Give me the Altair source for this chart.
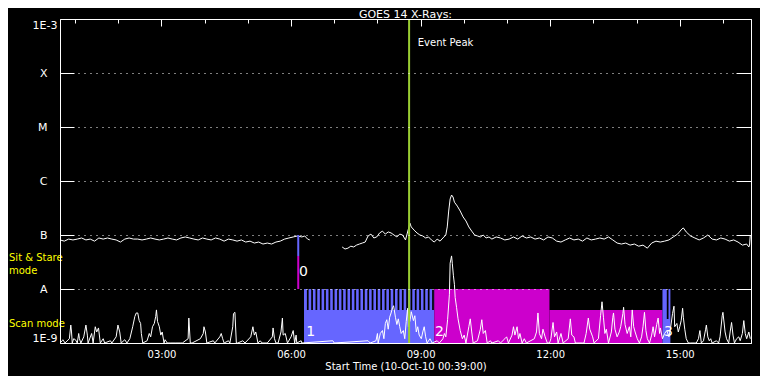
import altair as alt
import pandas as pd

FONT = "DejaVu Sans"
START = pd.Timestamp("2010-10-10 00:39:00")

# ---- upper trace (long channel), minutes after 00:39, flux in 1e-8 W/m^2
long_t1 = [0, 6, 12, 18, 24, 30, 36, 42, 48, 54,
           60, 66, 72, 78, 84, 90, 96, 102, 108, 114,
           120, 126, 132, 138, 144, 150, 156, 162, 168, 174,
           180, 186, 192, 198, 204, 210, 216, 222, 228, 234,
           240, 246, 252, 258, 264, 270, 276, 282, 288, 294,
           300, 306, 312, 318, 324, 330, 336, 340, 344, 347]
long_v1 = [8.1, 7.7, 8.4, 8.1, 8.4, 8.8, 8.1, 8.4, 7.7, 8.8,
           8.4, 8.8, 8.4, 8.1, 7.4, 8.4, 8.8, 8.4, 8.4, 8.1,
           8.4, 8.8, 8.4, 8.1, 8.4, 8.8, 8.4, 8.1, 8.8, 9.2,
           8.8, 8.4, 8.1, 8.8, 8.4, 8.1, 8.8, 8.4, 7.7, 8.4,
           8.1, 7.7, 8.1, 7.4, 7.7, 7.1, 7.4, 6.8, 7.1, 6.8,
           7.4, 7.7, 8.4, 8.8, 9.2, 9.6, 9.2, 9.6, 8.4, 8.1]
long_t2 = [392, 396, 400, 404, 408, 412, 416, 420, 424, 428,
           432, 436, 440, 444, 448, 452, 456, 460, 464, 468,
           472, 476, 480, 484, 486, 488, 492, 496, 500, 504,
           508, 512, 516, 520, 524, 528, 532, 536, 538, 540,
           542, 544, 546, 548, 552, 556, 560, 564, 568, 572,
           576, 580, 584, 588, 592, 596, 600, 606, 612, 618,
           624, 630, 636, 642, 648, 654, 660, 666, 672, 678,
           684, 690, 696, 702, 708, 714, 720, 726, 732, 738,
           744, 750, 756, 762, 768, 774, 780, 786, 792, 798,
           804, 810, 816, 822, 828, 834, 840, 846, 852, 858,
           864, 866, 870, 876, 882, 888, 894, 900, 906, 912,
           918, 924, 930, 936, 942, 948, 954, 957, 958, 959]
long_v2 = [6.0, 5.5, 5.7, 6.2, 6.0, 6.5, 6.8, 7.1, 7.4, 9.6,
           10.4, 8.8, 9.2, 10.9, 11.8, 10.4, 11.4, 10.9, 10.0, 9.2,
           10.4, 10.0, 8.1, 12.9, 16.7, 14.1, 12.3, 10.9, 10.0, 9.6,
           8.8, 9.2, 8.1, 7.4, 8.4, 7.7, 8.8, 10.0, 14.1, 27.8,
           46.4, 55.0, 50.6, 40.5, 34.3, 27.8, 21.6, 18.2, 14.1, 11.8,
           10.0, 9.6, 9.2, 10.0, 8.8, 9.2, 8.4, 9.2, 8.8, 8.1,
           8.4, 9.2, 8.4, 9.6, 8.8, 9.2, 8.4, 8.8, 8.1, 9.2,
           8.8, 7.7, 7.4, 8.1, 8.8, 8.1, 8.4, 7.7, 8.8, 8.1,
           8.4, 8.8, 8.4, 9.2, 8.1, 7.1, 6.8, 7.1, 6.5, 6.8,
           6.2, 6.5, 5.7, 7.1, 7.7, 7.4, 7.7, 8.1, 9.2, 10.4,
           12.9, 13.5, 11.4, 9.6, 8.8, 8.1, 8.8, 10.0, 8.4, 8.1,
           8.8, 8.4, 7.7, 8.1, 7.4, 6.5, 6.8, 6.0, 6.5, 10.0]

# ---- lower trace (short channel), (minutes after 00:39, flux in 1e-9 W/m^2)
short_pts = [
    (0, 0.9), (3, 1.1), (4, 1.15), (7, 0.9), (13, 1.2), (15, 2.15), (16, 1.6), (17, 0.9), (19, 1.2), (21.5, 1.15),
    (24, 0.9), (26, 1.5), (27, 1.2), (29, 0.9), (33, 1.3), (36, 2.15), (38, 1.4), (39, 0.9), (44, 1.5), (46, 0.9),
    (49, 2.0), (51, 1.6), (53.5, 1.9), (56, 0.9), (60, 1.2), (62, 0.9), (70, 1.1), (72, 0.9), (78, 1.3), (80.5, 2.15),
    (83, 1.6), (85, 0.9), (90, 1.15), (93, 0.9), (97, 1.2), (101, 2.0), (104, 3.1), (106, 3.6), (108, 3.6), (110, 2.6),
    (112, 2.3), (113, 1.5), (115, 0.9), (121, 1.1), (124, 1.5), (126, 1.3), (128.5, 2.0), (131, 2.3), (133, 3.1), (134, 4.1),
    (135.5, 2.5), (138, 2.0), (140, 1.4), (142, 1.6), (144.5, 0.9), (146, 1.15), (149, 0.9), (153, 1.0), (161, 0.9), (167, 1.0),
    (170, 0.9), (178, 1.2), (179, 2.9), (181, 1.0), (183.5, 0.9), (195, 1.2), (199, 1.5), (200, 2.0), (202, 1.6), (204, 0.9),
    (213, 1.1), (215, 0.9), (222, 1.3), (224, 1.5), (226, 1.2), (228, 0.9), (234, 1.1), (236, 0.9), (240, 2.0), (241, 3.5),
    (243, 3.7), (245, 1.0), (247, 0.9), (254, 1.1), (257, 0.9), (265, 1.3), (268, 2.0), (270, 1.4), (272, 1.6), (275, 1.0),
    (278, 1.1), (281, 0.9), (288, 1.0), (295, 1.3), (296, 1.9), (298, 1.2), (300, 1.0), (303, 0.9), (307, 1.6), (309, 2.9),
    (310, 1.4), (313, 1.5), (316, 0.9), (321, 1.3), (324, 1.7), (326, 1.0), (328, 1.4), (329, 0.9), (335, 1.1), (336, 0.9),
    (379, 1.1), (381, 0.9), (428, 1.1), (431, 0.9), (439, 1.1), (441, 1.5), (442, 1.0), (445, 1.5), (448, 1.7), (450, 1.2),
    (452, 2.3), (454, 2.7), (456, 1.8), (458, 3.0), (460, 3.6), (462, 4.5), (463.5, 4.9), (466, 3.0), (468, 2.2), (470, 2.8),
    (472, 2.0), (474, 1.5), (477, 1.7), (479, 1.2), (481, 2.5), (483, 4.4), (484, 2.0), (486.5, 2.7), (488, 3.8), (491, 2.6),
    (493, 3.2), (495, 1.6), (497, 2.0), (499, 1.4), (502, 1.2), (504, 1.6), (506, 2.0), (508, 1.3), (510, 1.0), (514, 1.2),
    (517, 0.9), (524, 1.1), (527, 0.9), (532, 1.2), (534, 1.5), (536, 1.3), (538.5, 2.7), (541, 8.0), (542, 30.0), (544, 41.0),
    (545, 30.0), (546.5, 18.0), (548, 12.0), (549, 7.0), (551, 4.5), (553, 2.8), (556, 1.7), (559, 1.2), (561.5, 1.4), (564, 1.0),
    (568, 2.0), (570, 2.8), (572, 1.6), (574, 1.0), (580, 1.1), (584, 1.8), (586, 2.7), (588, 1.5), (591, 1.7), (593.5, 1.0),
    (598, 1.1), (600, 0.9), (609, 1.1), (612, 0.9), (618, 1.2), (620.5, 1.3), (623, 0.9), (628, 1.4), (630, 2.0), (632, 1.4),
    (635, 2.0), (637, 1.2), (639, 1.5), (642, 1.0), (645, 1.2), (648, 0.9), (659, 1.2), (662, 1.6), (664, 3.6), (666, 1.5),
    (669, 1.2), (671, 1.8), (674, 1.3), (677, 1.0), (680, 0.9), (682, 1.2), (685, 2.4), (687, 1.3), (690, 1.6), (692, 1.0),
    (696, 1.5), (699, 0.9), (706, 1.2), (709, 2.8), (711, 1.4), (714, 1.3), (716, 0.9), (726, 1.0), (728, 0.9), (731, 1.5),
    (734, 2.9), (736, 1.8), (740, 1.3), (742, 0.9), (748, 1.2), (751, 3.2), (753, 5.8), (755, 3.0), (757, 1.5), (759, 1.8),
    (762, 1.0), (766, 1.6), (768, 3.0), (769, 3.6), (771, 1.8), (774, 1.3), (777, 1.6), (779, 2.0), (782, 3.5), (783, 4.6),
    (785, 2.2), (788, 1.5), (791, 2.0), (793, 1.3), (795, 4.1), (797, 2.0), (799, 1.6), (802, 1.2), (805, 1.0), (808, 1.3),
    (810, 2.0), (812, 3.7), (814, 1.7), (816, 1.2), (819, 1.0), (822, 1.4), (824, 2.0), (826, 1.3), (829, 2.2), (831, 2.9),
    (833, 1.5), (834, 1.9), (837, 1.2), (840, 1.5), (843, 1.7), (846, 1.3), (848, 1.8), (851, 3.5), (853, 4.8), (854, 2.0),
    (857, 2.3), (859, 1.6), (861, 2.0), (863, 2.6), (865, 4.4), (866, 3.0), (868, 1.8), (870, 1.2), (873, 1.0), (876, 0.9),
    (881, 1.0), (884, 0.9), (887, 1.2), (889, 1.7), (891, 1.0), (894, 1.1), (897, 1.8), (898, 2.15), (900, 1.3), (902, 1.1),
    (904, 1.2), (906, 0.9), (912, 1.1), (915, 1.0), (917, 1.3), (920, 3.2), (921, 3.7), (924, 1.6), (926, 1.2), (929, 1.0),
    (931, 1.6), (933, 2.4), (935, 1.4), (937, 1.0), (940, 1.2), (943, 1.3), (945, 1.1), (948, 1.5), (950, 2.6), (952, 1.5),
    (954, 1.2), (957, 1.6), (959, 1.2),
]

# ---- observing-mode blocks
mode_start = [339, 520, 680, 837]
mode_end = [520, 680, 837, 848]
mode_top = [1e-8, 1e-8, 4.08e-9, 1e-8]
mode_kind = ["blue", "magenta", "magenta", "blue"]

# scan comb (gaps at top of mode-1 block), minutes after 00:39
comb_start = [343, 349, 355, 361, 367, 373, 379, 385, 391, 397,
              403, 409, 415, 421, 427, 433, 439, 445, 451, 457,
              463, 469, 475, 481, 487, 493, 499, 505, 511, 517]
comb_floor = 4.08e-9
gap3_start = 843
gap3_floor = 2.78e-9
COMB_W = 2.4  # minutes

mode0_t = 331
mode0_edges = [1e-7, 4.08e-8, 1e-8]
peak_t = 485

digit_labels = ["0", "1", "2", "3"]
digit_t = [332, 342, 521, 839]
digit_y = [2.06e-8, 1.6e-9, 1.6e-9, 1.6e-9]

side_labels = ["Sit & Stare", "\u00a0\u00a0\u00a0mode", "Scan mode"]
side_y = [3.75e-8, 2.15e-8, 2.25e-9]

decades = [1e-9, 1e-8, 1e-7, 1e-6, 1e-5, 1e-4, 1e-3]
class_levels = [1e-8, 1e-7, 1e-6, 1e-5, 1e-4]
class_names = ["A", "B", "C", "M", "X"]


def iso(minutes):
    return [(START + pd.Timedelta(minutes=float(m))).strftime("%Y-%m-%dT%H:%M:%S") for m in minutes]


def dt(h, m=0):
    return alt.DateTime(year=2010, month=10, date=10, hours=h, minutes=m)


long_df = pd.DataFrame({
    "t": iso(long_t1) + iso(long_t2),
    "flux": [v * 1e-8 for v in long_v1 + long_v2],
    "seg": ["a"] * len(long_t1) + ["b"] * len(long_t2),
})
short_df = pd.DataFrame({
    "t": iso([p[0] for p in short_pts]),
    "flux": [p[1] * 1e-9 for p in short_pts],
})
modes_df = pd.DataFrame({
    "t0": iso(mode_start), "t1": iso(mode_end),
    "lo": [1e-9] * 4, "hi": mode_top, "kind": mode_kind,
})
comb_df = pd.DataFrame({
    "t0": iso(comb_start + [gap3_start]),
    "t1": iso([c + COMB_W for c in comb_start + [gap3_start]]),
    "lo": [comb_floor] * len(comb_start) + [gap3_floor],
    "hi": [1e-8] * (len(comb_start) + 1),
})
mode0_df = pd.DataFrame({
    "t": iso([mode0_t, mode0_t]),
    "lo": mode0_edges[:2], "hi": mode0_edges[1:],
    "kind": ["blue", "magenta"],
})
peak_df = pd.DataFrame({"t": iso([peak_t])})
event_df = pd.DataFrame({"t": iso([497]), "y": [3.6e-4], "label": ["Event Peak"]})
digit_df = pd.DataFrame({"t": iso(digit_t), "y": digit_y, "label": digit_labels})
side_df = pd.DataFrame({"y": side_y, "label": side_labels})

W, H = 691, 324
xscale = alt.Scale(domain=[dt(0, 39), dt(16, 39)])
yscale = alt.Scale(type="log", domain=[1e-9, 1e-3], clamp=True, nice=False)
cscale = alt.Scale(domain=["blue", "magenta"], range=["#6666FF", "#CC00CC"])

end_expr = "datum.value > 5e-4 ? '1E-3' : datum.value < 5e-9 ? '1E-9' : ''"
class_expr = " : ".join(
    f"datum.value > {lv * 0.5:g} && datum.value < {lv * 2:g} ? '{nm}'"
    for lv, nm in zip(class_levels, class_names)
) + " : ''"

bottom_axis = alt.Axis(orient="bottom", values=[dt(h) for h in [3, 6, 9, 12, 15]], format="%H:%M",
                       ticks=False, domain=True, domainColor="white", labelColor="white",
                       labelFontSize=10, labelPadding=6, labelFlush=False, grid=False,
                       title="Start Time (10-Oct-10 00:39:00)", titleColor="white",
                       titleFontSize=10, titleFontWeight="normal", titlePadding=2, zindex=1)
top_minor = alt.Axis(orient="bottom", offset=-H, values=[dt(h) for h in range(1, 17)],
                     ticks=True, tickSize=4, tickColor="white", labels=False, domain=True,
                     domainColor="white", title=None, grid=False, zindex=1)
top_major = alt.Axis(orient="bottom", offset=-H, values=[dt(h) for h in [3, 6, 9, 12, 15]],
                     ticks=True, tickSize=7, tickColor="white", labels=False, domain=False,
                     title=None, grid=False, zindex=1)
y_left = alt.Axis(orient="left", values=decades, labelExpr=end_expr, labelFlush=True,
                  ticks=False, domain=True, domainColor="white", labelColor="white",
                  labelFontSize=11, labelPadding=3, title=None, grid=True, gridColor="white",
                  gridDash=[1, 5], gridOpacity=1, zindex=1)
y_class = alt.Axis(orient="left", values=class_levels, labelExpr=class_expr, labelFlush=False,
                   ticks=False, domain=False, labelColor="white", labelFontSize=11,
                   labelPadding=13, title=None, grid=False, zindex=1)
y_left_ticks = alt.Axis(orient="right", offset=-W, values=decades, ticks=True, tickSize=14,
                        tickColor="white", labels=False, domain=False, title=None, grid=False, zindex=1)
y_right_ticks = alt.Axis(orient="left", offset=-W, values=decades, ticks=True, tickSize=15,
                         tickColor="white", labels=False, domain=True, domainColor="white",
                         title=None, grid=False, zindex=1)

rects = alt.Chart(modes_df).mark_rect().encode(
    x=alt.X("t0:T", scale=xscale, axis=bottom_axis), x2="t1:T",
    y=alt.Y("lo:Q", scale=yscale, axis=y_left), y2="hi:Q",
    color=alt.Color("kind:N", scale=cscale, legend=None),
)
comb = alt.Chart(comb_df).mark_rect(color="black").encode(
    x=alt.X("t0:T", scale=xscale, axis=None), x2="t1:T",
    y=alt.Y("lo:Q", scale=yscale, axis=y_class), y2="hi:Q",
)
upper = alt.Chart(long_df).mark_line(color="white", strokeWidth=1).encode(
    x=alt.X("t:T", scale=xscale, axis=top_minor),
    y=alt.Y("flux:Q", scale=yscale, axis=y_left_ticks),
    detail="seg:N",
)
lower = alt.Chart(short_df).mark_line(color="white", strokeWidth=1).encode(
    x=alt.X("t:T", scale=xscale, axis=top_major),
    y=alt.Y("flux:Q", scale=yscale, axis=y_right_ticks),
)
mode0 = alt.Chart(mode0_df).mark_rule(strokeWidth=2).encode(
    x=alt.X("t:T", scale=xscale, axis=None),
    y=alt.Y("lo:Q", scale=yscale, axis=None), y2="hi:Q",
    color=alt.Color("kind:N", scale=cscale, legend=None),
)
peak = alt.Chart(peak_df).mark_rule(color="#9ACD32", strokeWidth=2).encode(
    x=alt.X("t:T", scale=xscale, axis=None),
)
event_txt = alt.Chart(event_df).mark_text(align="left", baseline="middle", font=FONT,
                                          fontSize=10, color="white").encode(
    x=alt.X("t:T", scale=xscale, axis=None),
    y=alt.Y("y:Q", scale=yscale, axis=None), text="label:N",
)
digit_txt = alt.Chart(digit_df).mark_text(align="left", baseline="middle", font=FONT,
                                          fontSize=14, color="white").encode(
    x=alt.X("t:T", scale=xscale, axis=None),
    y=alt.Y("y:Q", scale=yscale, axis=None), text="label:N",
)
side_txt = alt.Chart(side_df).mark_text(align="left", baseline="middle", font=FONT,
                                        fontSize=10, color="#FFFF00").encode(
    x=alt.value(-51),
    y=alt.Y("y:Q", scale=yscale, axis=None), text="label:N",
)

chart = alt.layer(
    rects, comb, upper, lower, mode0, peak, event_txt, digit_txt, side_txt
).resolve_axis(x="independent", y="independent").properties(
    width=W, height=H,
    title=alt.TitleParams("GOES 14 X-Rays:", color="white", font=FONT, fontSize=11,
                          fontWeight="normal", anchor="middle", offset=-2),
    autosize=alt.AutoSizeParams(type="none"),
    padding={"left": 52, "top": 11, "right": 9, "bottom": 33},
).configure(background="black").configure_view(stroke=None).configure_axis(
    labelFont=FONT, titleFont=FONT
)

chart.save("out.html", embed_options={"renderer": "svg", "actions": False})
